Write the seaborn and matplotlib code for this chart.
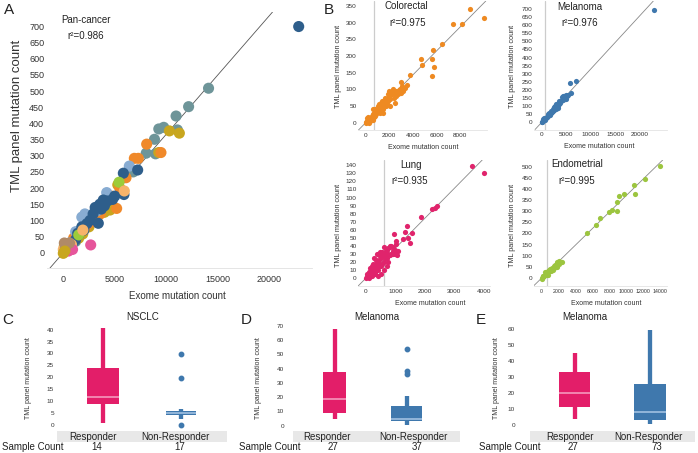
import matplotlib
matplotlib.use("Agg")
import matplotlib.pyplot as plt
import pandas as pd
import seaborn as sns
from matplotlib.patches import Rectangle

# ---------------------------------------------------------------- data
# panel A, pan-cancer (exome count, TML panel count) by tumour group
pan_teal = [(14130, 509), (12190, 452), (10970, 423), (9290, 383), (9770, 388),
            (8870, 351), (8065, 308), (8970, 306), (11100, 380), (6800, 250),
            (1200, 35), (500, 15), (4400, 150), (2200, 85), (200, 25)]
pan_olive = [(10320, 377), (11290, 370), (9290, 310), (5300, 210), (4545, 132),
             (1890, 58), (3000, 100), (2500, 80), (700, 15), (200, 5),
             (4000, 125), (1500, 45), (100, 20), (3400, 115), (2100, 75)]
pan_orange = [(8110, 336), (6910, 292), (7300, 292), (5190, 137), (5500, 200),
              (4700, 175), (3600, 120), (2800, 95), (1400, 50), (800, 30),
              (400, 12), (6100, 232), (9500, 310), (2300, 85), (1000, 45)]
pan_lightblue = [(6420, 268), (4220, 186), (2530, 106), (1800, 110), (1200, 65),
                 (600, 30), (3300, 130), (2100, 120)]
pan_darkblue = [(22900, 700), (7235, 256), (5840, 246), (3890, 163), (4300, 160),
                (3550, 150), (3405, 91), (2900, 120), (4800, 165), (3100, 140),
                (2000, 70), (1500, 55), (1200, 40), (600, 20), (300, 10),
                (2600, 100), (5000, 175), (1800, 80), (3700, 135), (900, 30),
                (5900, 180), (4000, 145), (2300, 90), (1400, 60)]
pan_green = [(5420, 218), (1500, 55), (300, 8)]
pan_lightorange = [(5935, 191), (1900, 70), (800, 25), (300, 20), (0, 10)]
pan_pink = [(2665, 24), (900, 10), (500, 5), (300, 15)]
pan_brown = [(200, 15), (600, 30), (100, 30)]
pan_olive_front = [(0, -2), (150, 5)]

# panel B
colorectal = [(10000, 314), (8817, 339), (7409, 295), (8197, 295), (6451, 237),
              (5662, 217), (4704, 192), (4760, 174), (5577, 190), (5803, 166),
              (5577, 141), (3747, 143), (2986, 123), (3465, 113), (3324, 103),
              (2901, 100), (2800, 97), (2600, 95), (2400, 90), (2200, 85),
              (2000, 80), (1800, 70), (1700, 65), (1600, 60), (1500, 55),
              (1400, 50), (1300, 48), (1200, 45), (1100, 40), (1000, 38),
              (900, 35), (800, 42), (700, 30), (600, 25), (500, 20), (400, 15),
              (300, 12), (200, 8), (100, 5), (50, 2), (0, 0), (1500, 40),
              (1800, 55), (2100, 70), (2400, 75), (2700, 85), (1200, 30),
              (900, 25), (600, 40), (1000, 50), (1300, 60), (2000, 95),
              (2300, 100), (1600, 75), (1100, 55), (1900, 85), (800, 20),
              (400, 5), (200, 18), (3000, 90), (2500, 60), (1300, 35),
              (100, 15), (250, 0), (600, 8), (1500, 30), (2100, 50),
              (3100, 110), (2600, 80), (1700, 50), (1900, 65), (700, 18),
              (1400, 65), (2200, 92), (3200, 95)]
melanoma = [(22755, 696), (7050, 255), (5770, 241), (5900, 181), (4400, 140),
            (4800, 150), (5200, 160), (5400, 170), (4000, 130), (4600, 165),
            (3600, 115), (3200, 105), (3000, 95), (2800, 90), (2600, 80),
            (2400, 75), (2200, 70), (2000, 65), (1800, 58), (1600, 50),
            (1400, 45), (1200, 40), (1000, 35), (800, 28), (600, 22), (400, 15),
            (200, 8), (100, 4), (0, 0), (3400, 100), (2500, 95), (3000, 80),
            (1500, 55), (2700, 100), (4200, 155), (3800, 120), (500, 25),
            (700, 12), (300, 18), (1100, 30), (2900, 110), (1300, 50),
            (1900, 70), (3500, 130), (4400, 165), (5000, 145), (4900, 170),
            (3300, 90), (2300, 85), (1700, 45)]
lung = [(3582, 139), (4000, 131), (2418, 89), (2339, 87), (2226, 86), (1865, 76),
        (950, 55), (1379, 65), (1322, 57), (1548, 56), (1006, 46), (1266, 48),
        (1435, 50), (1492, 44), (0, 0), (50, 2), (100, 5), (150, 8), (200, 10),
        (250, 12), (300, 15), (350, 18), (400, 20), (450, 22), (500, 25),
        (550, 27), (600, 30), (650, 32), (700, 35), (750, 37), (800, 38),
        (850, 40), (900, 38), (1000, 35), (1100, 33), (900, 30), (800, 28),
        (700, 25), (600, 20), (500, 15), (400, 10), (300, 5), (200, 2),
        (100, 0), (150, 12), (250, 18), (350, 22), (450, 28), (550, 32),
        (650, 25), (750, 20), (850, 30), (950, 32), (1050, 28), (700, 15),
        (600, 10), (500, 5), (400, 3), (300, 8), (100, 8), (50, 5), (600, 38),
        (800, 40), (1020, 42), (380, 30), (480, 32), (280, 25), (200, 15),
        (350, 12), (450, 15), (550, 18), (650, 28), (750, 30), (900, 34),
        (1000, 30), (250, 5), (150, 3)]
endometrial = [(14000, 503), (12190, 443), (10850, 418), (11000, 376),
               (9750, 376), (9080, 368), (8840, 343), (8920, 301), (8250, 305),
               (7980, 298), (6880, 268), (6400, 238), (5380, 200), (2360, 73),
               (2000, 75), (1800, 70), (1600, 60), (1400, 52), (1200, 45),
               (1000, 40), (900, 35), (800, 30), (700, 28), (600, 25), (500, 20),
               (400, 15), (300, 10), (200, 8), (100, 3), (0, 0), (1800, 50),
               (1500, 45), (1100, 30), (700, 15), (350, 25), (2100, 62),
               (100, 10), (1300, 38), (50, -5), (600, 12)]

# panels C-E: [whisker low, q1, median, q3, whisker high] and outliers
nsclc_resp = [1.0, 9.0, 11.9, 24.0, 40.6]
nsclc_resp_out = []
nsclc_non = [2.7, 4.2, 5.0, 5.7, 6.9]
nsclc_non_out = [0, 19.7, 29.8]
mel1_resp = [4.7, 8.7, 18.5, 37.7, 67.7]
mel1_resp_out = []
mel1_non = [0.5, 3.5, 4.7, 13.8, 20.8]
mel1_non_out = [36.3, 38.6, 53.6]
mel2_resp = [3.6, 11.5, 20.1, 33.3, 45.0]
mel2_resp_out = []
mel2_non = [0.4, 3.1, 8.2, 25.9, 59.6]
mel2_non_out = []
groups = ["Responder", "Non-Responder"]
counts_c = [14, 17]
counts_d = [27, 37]
counts_e = [27, 73]

# ---------------------------------------------------------------- layout
W, H = 698, 453
sns.set_style("white")
plt.rcParams["font.family"] = ["Liberation Sans", "DejaVu Sans"]
plt.rcParams["text.color"] = "#222222"
fig = plt.figure(figsize=(W / 100, H / 100), dpi=100)
FT = fig.transFigure


def pos(x, y):
    return x / W, 1 - y / H


def make_ax(l, t, r, b):
    return fig.add_axes([l / W, 1 - b / H, (r - l) / W, (b - t) / H])


def ftext(x, y, s, **kw):
    fx, fy = pos(x, y)
    fig.text(fx, fy, s, va="center", **kw)


def to_df(pts):
    return pd.DataFrame(pts, columns=["Exome", "TML"])


# ---------------------------------------------------------------- panel A
pan_colors = {"teal": "#6e9599", "olive": "#c8a61e", "orange": "#f0892a",
              "lightblue": "#88acd2", "darkblue": "#2e5e8b", "green": "#9ccc3a",
              "lightorange": "#f6b36a", "pink": "#e6559b", "brown": "#b08a68",
              "olive2": "#c8a61e"}
frames = []
for name, pts in [("teal", pan_teal), ("olive", pan_olive), ("orange", pan_orange),
                  ("lightblue", pan_lightblue), ("darkblue", pan_darkblue),
                  ("green", pan_green), ("lightorange", pan_lightorange),
                  ("pink", pan_pink), ("brown", pan_brown),
                  ("olive2", pan_olive_front)]:
    d = to_df(pts)
    d["group"] = name
    frames.append(d)
pan = pd.concat(frames, ignore_index=True)

axA = make_ax(47, 12, 312, 268)
axA.axline((0, 0), slope=0.0366, color="#555555", lw=0.6, zorder=1)
sns.scatterplot(data=pan, x="Exome", y="TML", hue="group", palette=pan_colors,
                s=64, linewidth=0, alpha=1, legend=False, ax=axA, zorder=2)
axA.set_xlim(-1586, 24194)
axA.set_ylim(-47.4, 745)
axA.set_xticks(range(0, 20001, 5000))
axA.set_yticks(range(0, 701, 50))
axA.tick_params(axis="both", labelsize=6.5, colors="#333333", length=0, pad=2)
axA.tick_params(axis="x", length=2, color="#d8d8d8", pad=3)
for s in ["top", "right", "left"]:
    axA.spines[s].set_visible(False)
axA.spines["bottom"].set_color("#e0e0e0")
axA.spines["bottom"].set_linewidth(0.6)
axA.set_xlabel("Exome mutation count", fontsize=7, color="#333333")
axA.set_ylabel("TML panel mutation count", fontsize=9.5, color="#333333")
axA.xaxis.set_label_coords(*pos(177, 291), transform=FT)
axA.yaxis.set_label_coords(*pos(22.7, 116), transform=FT)
ftext(61.7, 20, "Pan-cancer", fontsize=7)
ftext(67.7, 35.7, "r\u00b2=0.986", fontsize=7)


# ---------------------------------------------------------------- panel B
def scatter_panel(box, pts, color, xlim, ylim, xticks, yticks, slope, vline,
                  name, name_xy, r2, r2_xy, xlab_xy, ylab_xy, xsize=4.6):
    ax = make_ax(*box)
    ax.axvline(vline, color="#cccccc", lw=0.9, zorder=1)
    ax.axline((0, 0), slope=slope, color="#888888", lw=0.6, zorder=1)
    sns.scatterplot(data=to_df(pts), x="Exome", y="TML", color=color, s=14,
                    linewidth=0, alpha=1, legend=False, ax=ax, zorder=2)
    ax.set_xlim(*xlim)
    ax.set_ylim(*ylim)
    ax.set_xticks(xticks)
    ax.set_yticks(yticks)
    ax.tick_params(axis="both", labelsize=4.6, colors="#333333", length=0, pad=1)
    ax.tick_params(axis="x", pad=2, labelsize=xsize)
    for s in ["top", "right", "left"]:
        ax.spines[s].set_visible(False)
    ax.spines["bottom"].set_color("#e3e3e3")
    ax.spines["bottom"].set_linewidth(0.6)
    ax.set_xlabel("Exome mutation count", fontsize=5, color="#333333")
    ax.set_ylabel("TML panel mutation count", fontsize=5.2, color="#333333")
    ax.xaxis.set_label_coords(*pos(*xlab_xy), transform=FT)
    ax.yaxis.set_label_coords(*pos(*ylab_xy), transform=FT)
    ftext(name_xy[0], name_xy[1], name, fontsize=7)
    ftext(r2_xy[0], r2_xy[1], r2, fontsize=7)
    return ax


scatter_panel((358, 1, 487, 130), colorectal, "#ee8a22", (-653, 10280),
              (-21.9, 364.4), range(0, 8001, 2000), range(0, 351, 50), 0.0358,
              700, "Colorectal", (384.3, 6), "r\u00b2=0.975", (389, 23.5),
              (423.3, 144), (342, 66))
scatter_panel((534, 1, 667, 129.5), melanoma, "#3f78ad", (-1565, 25474),
              (-44.5, 749), range(0, 20001, 5000), range(0, 701, 50), 0.033,
              700, "Melanoma", (557.3, 6.5), "r\u00b2=0.976", (561.7, 23.5),
              (599.5, 143.3), (516, 66))
scatter_panel((358, 160, 490, 286), lung, "#e0246c", (-271, 4204),
              (-9.9, 146.6), range(0, 4001, 1000), range(0, 141, 10), 0.0372,
              620, "Lung", (400, 165), "r\u00b2=0.935", (391.7, 181),
              (430, 300), (342, 225))
scatter_panel((534, 160, 667, 286), endometrial, "#9cc53f", (-909, 14793),
              (-35.9, 530), range(0, 14001, 2000), range(0, 501, 50), 0.0371,
              590, "Endometrial", (551, 164), "r\u00b2=0.995", (558.3, 181),
              (606.7, 300), (516, 225), xsize=3.8)


# ---------------------------------------------------------------- panels C-E
def box_stats(five, out):
    lo, q1, med, q3, hi = five
    return dict(whislo=lo, q1=q1, med=med, q3=q3, whishi=hi, fliers=out)


def box_panel(box, xlim, ylim, yticks, boxes, widths, title, title_xy, band,
              lab_x, cnt_x, sc_x, ylab_xy, letter, letter_xy, counts):
    ax = make_ax(*box)
    styles = [("#e31e69", "#f6a3c4"), ("#3f78ad", "#a9c7e6")]
    for i, ((five, out), (c, mc)) in enumerate(zip(boxes, styles)):
        ax.bxp([box_stats(five, out)], positions=[i], widths=[widths[i]],
               patch_artist=True, showcaps=False,
               boxprops=dict(facecolor=c, edgecolor=c, linewidth=0),
               whiskerprops=dict(color=c, linewidth=3.1, solid_capstyle="butt"),
               medianprops=dict(color=mc, linewidth=1.1),
               flierprops=dict(marker="o", markerfacecolor=c,
                               markeredgecolor=c, markersize=3.2))
    ax.set_xlim(*xlim)
    ax.set_ylim(*ylim)
    ax.set_xticks([])
    ax.set_yticks(yticks)
    ax.tick_params(axis="y", labelsize=4.6, colors="#333333", length=0, pad=1.5)
    sns.despine(ax=ax, left=True, bottom=True)
    ax.set_ylabel("TML panel mutation count", fontsize=5, color="#333333")
    ax.yaxis.set_label_coords(*pos(*ylab_xy), transform=FT)
    bx, by = pos(band[0], 442)
    fig.patches.append(Rectangle((bx, by), (band[1] - band[0]) / W, 11 / H,
                                 transform=FT, facecolor="#e8e8e8",
                                 edgecolor="none", zorder=0))
    ftext(title_xy[0], title_xy[1], title, fontsize=7, ha="center")
    for g, lx, n, cx in zip(groups, lab_x, counts, cnt_x):
        ftext(lx, 436.7, g, fontsize=7, ha="center")
        ftext(cx, 447, str(n), fontsize=7, ha="center")
    ftext(sc_x, 447, "Sample Count", fontsize=7, ha="left")
    ftext(letter_xy[0], letter_xy[1], letter, fontsize=11, ha="center")
    return ax


box_panel((56, 322, 226.7, 431), (-0.61, 1.59), (-2.5, 43.2), range(0, 41, 5),
          [(nsclc_resp, nsclc_resp_out), (nsclc_non, nsclc_non_out)],
          [0.41, 0.39], "NSCLC", (142.7, 316.7), (57.3, 226.7),
          (92.8, 175.7), (96.7, 180), 2.5, (31.7, 378), "C", (8, 320),
          counts_c)
box_panel((286, 322, 460, 431.7), (-0.678, 1.745), (-4.2, 72.8),
          range(0, 71, 10),
          [(mel1_resp, mel1_resp_out), (mel1_non, mel1_non_out)],
          [0.32, 0.44], "Melanoma", (377.3, 316.7), (293.3, 460),
          (326.7, 413.3), (333.3, 416.7), 239.3, (262.3, 378), "D",
          (246.7, 320), counts_d)
box_panel((517, 322, 695, 431), (-0.764, 1.6), (-3.8, 64.6), range(0, 61, 10),
          [(mel2_resp, mel2_resp_out), (mel2_non, mel2_non_out)],
          [0.41, 0.42], "Melanoma", (585, 316.7), (530, 695),
          (570, 648.3), (573.3, 656.7), 479, (500, 378), "E", (480.5, 320),
          counts_e)

ftext(9.5, 10, "A", fontsize=11, ha="center")
ftext(329, 10, "B", fontsize=11, ha="center")

fig.savefig("out.png", dpi=100, facecolor="white")
